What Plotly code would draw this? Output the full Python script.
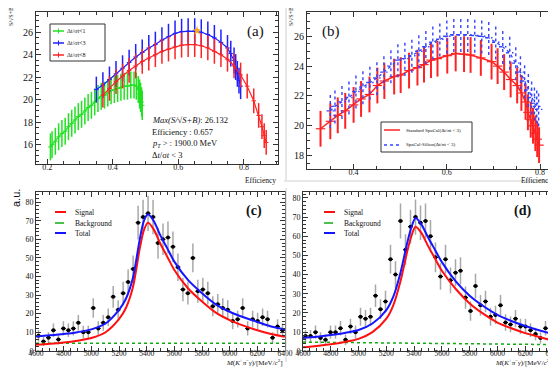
import plotly.graph_objects as go

# (a) S/sqrt(S+B) vs efficiency, three dt/sigma_t cuts
eff_dt1 = [0.21, 0.215, 0.225, 0.235, 0.245, 0.255, 0.265, 0.275, 0.285, 0.295, 0.305, 0.315,
           0.325, 0.335, 0.345, 0.355, 0.365, 0.375, 0.385, 0.395, 0.405, 0.415, 0.425, 0.435,
           0.445, 0.455, 0.465, 0.472, 0.478, 0.482, 0.485, 0.488, 0.49]
ssb_dt1 = [15.8, 16.0, 16.3, 16.7, 17.0, 17.2, 17.6, 17.9, 18.2, 18.5, 18.7, 19.0,
           19.3, 19.5, 19.8, 20.1, 20.3, 20.4, 20.6, 20.8, 20.9, 21.0, 21.1, 21.2,
           21.2, 21.3, 21.3, 21.2, 20.9, 20.5, 20.2, 19.8, 19.5]
err_dt1 = [1.2] * 27 + [1.2, 1.2, 1.3, 1.3, 1.3, 1.3]

eff_dt3 = [0.35, 0.37, 0.39, 0.41, 0.43, 0.45, 0.47, 0.49, 0.51, 0.53, 0.55, 0.57, 0.59, 0.61,
           0.63, 0.65, 0.67, 0.69, 0.71, 0.73, 0.75, 0.76, 0.77, 0.775, 0.78, 0.785, 0.79]
ssb_dt3 = [20.9, 21.3, 21.8, 22.3, 22.8, 23.3, 23.8, 24.2, 24.6, 24.9, 25.3, 25.6, 25.9, 26.05,
           26.1, 26.1, 26.0, 25.8, 25.5, 25.1, 24.6, 24.1, 23.5, 22.9, 22.3, 21.7, 21.2]
err_dt3 = [1.15] * 27

eff_dt8 = [0.37, 0.39, 0.41, 0.43, 0.45, 0.47, 0.49, 0.51, 0.53, 0.55, 0.57, 0.59, 0.61, 0.63,
           0.65, 0.67, 0.69, 0.71, 0.73, 0.75, 0.77, 0.79, 0.81, 0.83, 0.845, 0.855, 0.862, 0.868]
ssb_dt8 = [20.4, 21.0, 21.6, 22.1, 22.6, 23.0, 23.4, 23.7, 24.0, 24.3, 24.5, 24.7, 24.85, 24.9,
           24.9, 24.8, 24.6, 24.3, 24.0, 23.6, 23.0, 22.2, 21.2, 19.9, 18.6, 17.6, 16.8, 16.2]
err_dt8 = [1.1] * 28

best_eff = [0.657]
best_ssb = [26.132]

# (b) standard SpaCal vs SpaCal-Silicon
eff_std = [0.329, 0.35, 0.366, 0.382, 0.4, 0.416, 0.434, 0.451, 0.466, 0.487, 0.501, 0.519,
           0.537, 0.551, 0.566, 0.58, 0.601, 0.619, 0.637, 0.651, 0.673, 0.696, 0.709, 0.723,
           0.737, 0.751, 0.76, 0.769, 0.774, 0.78, 0.785, 0.79, 0.794, 0.798]
ssb_std = [19.8, 20.3, 20.7, 21.0, 21.4, 21.8, 22.1, 22.7, 23.0, 23.3, 23.4, 23.7,
           23.9, 24.1, 24.4, 24.5, 24.7, 24.85, 24.8, 24.75, 24.55, 24.3, 24.0, 23.6,
           23.1, 22.7, 22.2, 21.6, 20.9, 20.4, 20.0, 19.5, 19.1, 18.7]
err_std = [1.2] * 34

eff_sil = [0.35, 0.36, 0.375, 0.39, 0.405, 0.42, 0.435, 0.45, 0.465, 0.48, 0.495, 0.51, 0.525,
           0.54, 0.555, 0.57, 0.585, 0.6, 0.615, 0.63, 0.645, 0.66, 0.675, 0.69, 0.705, 0.72,
           0.735, 0.748, 0.758, 0.767, 0.775, 0.782, 0.788, 0.793, 0.797]
ssb_sil = [21.0, 21.3, 21.6, 21.9, 22.3, 22.6, 22.9, 23.2, 23.6, 24.0, 24.4, 24.5, 24.7,
           25.0, 25.3, 25.6, 25.8, 26.0, 26.1, 26.1, 26.1, 26.05, 26.0, 25.9, 25.6, 25.3,
           24.9, 24.2, 23.6, 23.0, 22.4, 21.9, 21.5, 21.3, 21.1]
err_sil = [1.15] * 35

# (c), (d) invariant mass fits
mass_bins = [4618 + 36 * i for i in range(50)]
counts_c = [8, 5, 7, 11, 6, 12, 11, 12, 15, 10, 10, 23, 12, 15, 18, 29, 22, 31, 37, 44,
            69, 72, 74, 72, 58, 60, 61, 56, 45, 33, 31, 50, 32, 33, 31, 24, 25, 23, 22, 16,
            17, 23, 12, 17, 16, 18, 17, 7, 13, 11]
errs_c = [3.1, 2.5, 2.9, 3.6, 2.7, 3.8, 3.6, 3.8, 4.3, 3.5, 3.5, 5.3, 3.8, 4.3, 4.7, 5.9, 5.2, 6.1, 6.7, 7.3,
          9.1, 9.3, 9.5, 9.3, 8.4, 8.5, 8.6, 8.2, 7.4, 6.3, 6.1, 7.8, 6.2, 6.3, 6.1, 5.4, 5.5, 5.3, 5.2, 4.4,
          4.5, 5.3, 3.8, 4.5, 4.4, 4.7, 4.5, 2.9, 4.0, 3.6]
counts_d = [8, 8, 10, 7, 6, 10, 10, 12, 6, 13, 10, 18, 17, 18, 29, 22, 26, 48, 40, 68,
            53, 65, 70, 67, 68, 60, 49, 39, 48, 37, 41, 42, 28, 21, 34, 24, 26, 18, 19, 24,
            15, 14, 17, 13, 13, 11, 9, 7, 12, 10]
errs_d = [3.1, 3.1, 3.5, 2.9, 2.7, 3.5, 3.5, 3.8, 2.7, 4.0, 3.5, 4.7, 4.5, 4.7, 5.9, 5.2, 5.6, 7.6, 7.0, 9.1,
          8.0, 8.9, 9.2, 9.0, 9.1, 8.5, 7.7, 6.9, 7.6, 6.7, 7.0, 7.1, 5.8, 5.0, 6.4, 5.4, 5.6, 4.7, 4.8, 5.4,
          4.3, 4.1, 4.5, 4.0, 4.0, 3.6, 3.3, 2.9, 3.8, 3.5]

curve_mass = [4600, 4700, 4800, 4900, 5000, 5100, 5200, 5250, 5300, 5350, 5380, 5410,
              5450, 5500, 5550, 5600, 5700, 5800, 5900, 6000, 6100, 6200, 6300, 6400]
signal_c = [3.2, 3.7, 4.4, 5.4, 6.8, 9.8, 17, 23, 34, 55, 65, 69,
            65.5, 57.5, 50.5, 43.5, 33.5, 26.5, 20.5, 16.5, 13.5, 11, 9, 7.5]
total_c = [7.7, 8.3, 9.0, 10.0, 11.5, 14.5, 22, 28, 39, 60, 70, 73.5,
           70, 62, 55, 48, 38, 31, 25, 21, 18, 15.5, 13, 11.5]
signal_d = [2.1, 2.8, 3.7, 4.9, 6.5, 10, 17, 24, 36, 52, 60, 65,
            62, 55, 48.5, 42, 32.5, 25, 19.5, 15, 12, 9.5, 7.5, 5.5]
total_d = [7.0, 7.6, 8.5, 9.6, 11.1, 14.5, 21.5, 28.5, 40.5, 56.5, 64.5, 69.5,
           66.5, 59.5, 53, 46.5, 36.5, 29, 23.5, 19, 15.8, 13.2, 11, 9]
bkg_mass = [4600, 6400]
bkg_c = [4.0, 4.0]
bkg_d = [4.8, 3.5]

W, H = 556, 368
SERIF = "Liberation Serif"
GREEN, BLUE, RED = "#22e022", "#1f1fff", "#ff2222"


def px(x):
    return x / W


def py(y):
    return 1 - y / H


fig = go.Figure()

# ---- panel (a)
for eff, ssb, err, col in [(eff_dt1, ssb_dt1, err_dt1, GREEN),
                           (eff_dt3, ssb_dt3, err_dt3, BLUE),
                           (eff_dt8, ssb_dt8, err_dt8, RED)]:
    fig.add_trace(go.Scatter(
        x=eff, y=ssb, mode="lines", line=dict(color=col, width=1.2),
        error_y=dict(type="data", array=err, color=col, thickness=1.5, width=0),
        error_x=dict(type="constant", value=0.007, color=col, thickness=1, width=0),
        xaxis="x", yaxis="y", showlegend=False))
fig.add_trace(go.Scatter(x=best_eff, y=best_ssb, mode="markers",
                         marker=dict(symbol="star", size=7, color="#f5a623"),
                         xaxis="x", yaxis="y", showlegend=False))

# ---- panel (b)
fig.add_trace(go.Scatter(
    x=eff_std, y=ssb_std, mode="lines", line=dict(color=RED, width=1.5),
    error_y=dict(type="data", array=err_std, color=RED, thickness=2, width=0),
    error_x=dict(type="constant", value=0.01, color=RED, thickness=1.2, width=0),
    xaxis="x2", yaxis="y2", showlegend=False))
# dotted error bars for the silicon curve
ebx, eby = [], []
for e, s, d in zip(eff_sil, ssb_sil, err_sil):
    ebx += [e, e, None, e - 0.008, e + 0.008, None]
    eby += [s - d, s + d, None, s, s, None]
fig.add_trace(go.Scatter(x=ebx, y=eby, mode="lines",
                         line=dict(color="#3344ff", width=1.4, dash="dot"),
                         xaxis="x2", yaxis="y2", showlegend=False))
fig.add_trace(go.Scatter(x=eff_sil, y=ssb_sil, mode="lines",
                         line=dict(color="#3344ff", width=1.3, dash="dot"),
                         xaxis="x2", yaxis="y2", showlegend=False))

# ---- panels (c), (d)
for xa, ya, counts, errs, sig, tot, bkg in [("x3", "y3", counts_c, errs_c, signal_c, total_c, bkg_c),
                                             ("x4", "y4", counts_d, errs_d, signal_d, total_d, bkg_d)]:
    fig.add_trace(go.Scatter(
        x=mass_bins, y=counts, mode="markers", marker=dict(color="black", size=4),
        error_y=dict(type="data", array=errs, color="#a8a8a8", thickness=1.5, width=0),
        error_x=dict(type="constant", value=18, color="black", thickness=1, width=0),
        xaxis=xa, yaxis=ya, showlegend=False))
    fig.add_trace(go.Scatter(x=bkg_mass, y=bkg, mode="lines",
                             line=dict(color="#11aa11", width=1.5, dash="dot"),
                             xaxis=xa, yaxis=ya, showlegend=False))
    fig.add_trace(go.Scatter(x=curve_mass, y=sig, mode="lines",
                             line=dict(color="#ff1010", width=2, shape="spline", smoothing=0.8),
                             xaxis=xa, yaxis=ya, showlegend=False))
    fig.add_trace(go.Scatter(x=curve_mass, y=tot, mode="lines",
                             line=dict(color="#1515ff", width=2, shape="spline", smoothing=0.8),
                             xaxis=xa, yaxis=ya, showlegend=False))

axis_style = dict(showline=True, linecolor="#333", linewidth=1, mirror="allticks",
                  ticks="inside", ticklen=5, tickwidth=1, tickcolor="#333",
                  showgrid=False, zeroline=False, automargin=False,
                  tickfont=dict(family=SERIF, size=8, color="#111"))


def ax(domain, rng, dtick, minor_dtick, **kw):
    d = dict(axis_style)
    d.update(domain=domain, range=rng, dtick=dtick, tick0=0,
             minor=dict(ticks="inside", ticklen=3, dtick=minor_dtick, tickcolor="#333"))
    d.update(kw)
    return d


ylab_big = dict(family=SERIF, size=10, color="#111")
mass_font = dict(family=SERIF, size=7.5, color="#111")
fig.update_layout(
    xaxis=ax([px(28), px(270)], [0.166, 0.904], 0.2, 0.05, anchor="y", tickformat=".1f",
             ticklabelstandoff=-5),
    yaxis=ax([py(156), py(4)], [14.28, 27.8], 2, 0.5, anchor="x", tickfont=ylab_big),
    xaxis2=ax([px(299), px(546)], [0.30, 0.83], 0.2, 0.05, anchor="y2", tickformat=".1f",
              ticklabelstandoff=-5),
    yaxis2=ax([py(161), py(4)], [17.1, 27.63], 2, 0.5, anchor="x2", tickfont=ylab_big),
    xaxis3=ax([px(28), px(277)], [4600, 6400], 200, 50, anchor="y3", ticklabelstandoff=-5,
              tickfont=mass_font),
    yaxis3=ax([py(342.7), py(184)], [0, 85.5], 10, 2, anchor="x3"),
    xaxis4=ax([px(295), px(545)], [4600, 6400], 200, 50, anchor="y4", ticklabelstandoff=-5,
              tickfont=mass_font),
    yaxis4=ax([py(343.3), py(184)], [0, 83.1], 10, 2, anchor="x4"),
)

anns = []
shapes = []


def text(x, y, s, size, xanchor="left", angle=0, **kw):
    anns.append(dict(x=px(x), y=py(y), xref="paper", yref="paper", text=s, showarrow=False,
                     xanchor=xanchor, yanchor="middle", textangle=angle,
                     font=dict(family=kw.pop("family", SERIF), size=size, color="#111"), **kw))


def seg(x0, y0, x1, y1, color, width=1.5, dash="solid"):
    shapes.append(dict(type="line", xref="paper", yref="paper", x0=px(x0), y0=py(y0),
                       x1=px(x1), y1=py(y1), line=dict(color=color, width=width, dash=dash)))


def box(x0, y0, x1, y1, color="#333", width=1):
    shapes.append(dict(type="rect", xref="paper", yref="paper", x0=px(x0), y0=py(y1),
                       x1=px(x1), y1=py(y0), line=dict(color=color, width=width),
                       fillcolor="white", layer="above"))


# faint pad borders
seg(278, 0, 278, 172, "#cfcfcf", 1)
seg(552, 0, 552, 173, "#cfcfcf", 1)
seg(276, 173, 552, 173, "#cfcfcf", 1)
seg(278, 180, 278, 354, "#cfcfcf", 1)
seg(554, 180, 554, 362, "#cfcfcf", 1)

# panel labels
text(247, 24, "(a)", 15, "center")
text(323, 24, "(b)", 15, "center")
text(246, 203, "<b>(c)</b>", 14, "center")
text(514, 203, "<b>(d)</b>", 14, "center")

# axis titles
text(270, 172, "Efficiency", 7.5, "right")
text(546, 172, "Efficiency", 7.5, "right")
text(3, 9, "S/√S+B", 6, "center", angle=-90)
text(283, 9, "S/√S+B", 6, "center", angle=-90)
text(8, 190, "a.u.", 11, "center", angle=-90, family="Liberation Sans")
text(277, 354, "<i>M</i>(<i>K</i><sup>+</sup><i>π</i><sup>−</sup><i>γ</i>)/[MeV/<i>c</i><sup>2</sup>]", 7, "right")
text(546, 354, "<i>M</i>(<i>K</i><sup>+</sup><i>π</i><sup>−</sup><i>γ</i>)/[MeV/<i>c</i><sup>2</sup>]", 7, "right")

# info text in (a)
text(142, 112, "<i>Max(S/</i>√<i>S+B)</i>: 26.132", 8.5)
text(142, 124, "Efficiency : 0.657", 8.5)
text(142, 135, "<i>p<sub>T</sub></i> > : 1900.0 MeV", 8.5)
text(142, 147, "Δ<i>t</i>/σ<i>t</i> < 3", 8.5)

# legend (a)
box(42, 16, 97, 53)
for yy, col, lab in [(23, GREEN, "Δt/σt<1"), (35, BLUE, "Δt/σt<3"), (47, RED, "Δt/σt<8")]:
    seg(45, yy, 56, yy, col, 1.5)
    seg(50.5, yy - 2.5, 50.5, yy + 2.5, col, 1)
    text(57, yy, lab, 6)

# legend (b)
box(373, 114, 464, 144)
seg(376, 122, 392, 122, RED, 1.5)
text(396, 122, "Standard SpaCal(Δt/σt < 3)", 5)
seg(376, 137, 392, 137, "#3344ff", 1.5, "dot")
text(396, 137, "SpaCal-Silion(Δt/σt < 3)", 5)

# legends (c), (d)
for x0 in (47, 316):
    seg(x0, 204, x0 + 11, 204, "#ff1010", 2)
    text(x0 + 18, 204, "Signal", 7.5)
    seg(x0, 215, x0 + 11, 215, "#11aa11", 1.5, "dash")
    text(x0 + 18, 215, "Background", 7.5)
    seg(x0, 225, x0 + 11, 225, "#1515ff", 2)
    text(x0 + 18, 225, "Total", 7.5)

fig.update_layout(
    width=W, height=H, margin=dict(l=0, r=0, t=0, b=0),
    paper_bgcolor="white", plot_bgcolor="white",
    annotations=anns, shapes=shapes, showlegend=False,
    font=dict(family=SERIF),
)

fig.write_html("out.html")
